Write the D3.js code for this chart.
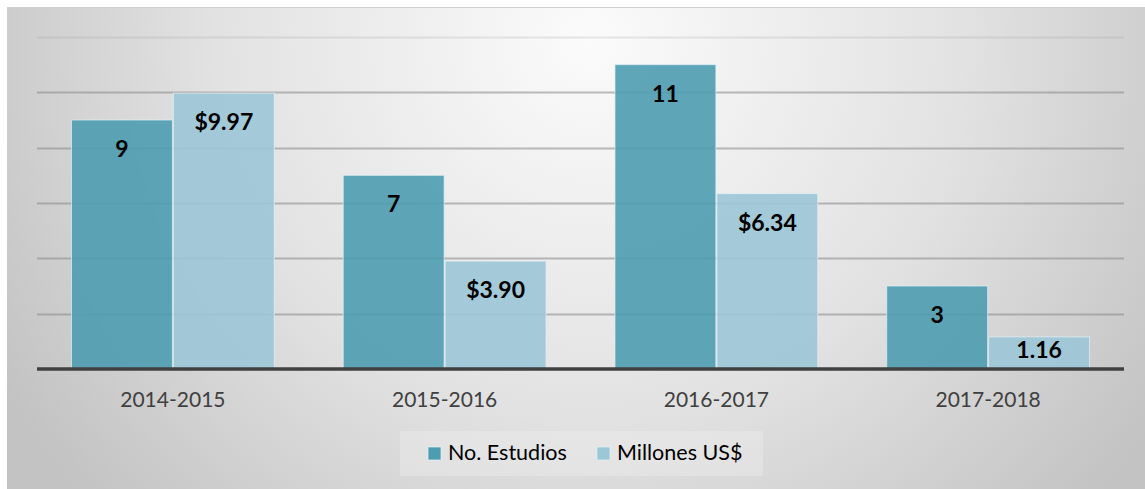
<!DOCTYPE html>
<html>
<head>
<meta charset="utf-8">
<script src="https://cdn.jsdelivr.net/npm/d3@7"></script>
<style>
  body { margin: 0; background: #fff; }
  svg { display: block; font-family: Lato, "Open Sans", sans-serif; }
</style>
</head>
<body>
<div id="chart"></div>
<script>
// chart data
const periodos = ["2014-2015", "2015-2016", "2016-2017", "2017-2018"];
const estudios = [9, 7, 11, 3];
const millones = [9.97, 3.90, 6.34, 1.16];
const millonesLabels = ["$9.97", "$3.90", "$6.34", "1.16"];
const seriesNames = ["No. Estudios", "Millones US$"];
const yTicks = [0, 2, 4, 6, 8, 10, 12];

const W = 1145, H = 489;
const plot = { left: 37, right: 1124, top: 37, bottom: 369 };
const colors = ["#4d9cb0", "#9cc7d7"];

const svg = d3.select("#chart").append("svg")
  .attr("width", W)
  .attr("height", H);

// background gradient panel
const defs = svg.append("defs");
const grad = defs.append("radialGradient")
  .attr("id", "bg")
  .attr("gradientUnits", "userSpaceOnUse")
  .attr("cx", 590).attr("cy", 40).attr("r", 680);
grad.append("stop").attr("offset", "0").attr("stop-color", "#fbfbfb");
grad.append("stop").attr("offset", "0.55").attr("stop-color", "#e2e2e2");
grad.append("stop").attr("offset", "1").attr("stop-color", "#c3c3c3");

svg.append("rect")
  .attr("x", 7).attr("y", 7)
  .attr("width", W - 7).attr("height", H - 7)
  .attr("fill", "url(#bg)");
svg.append("line")
  .attr("x1", 7).attr("x2", W)
  .attr("y1", 7.5).attr("y2", 7.5)
  .attr("stroke", "#cfcfcf");

// scales
const x = d3.scaleBand().domain(periodos)
  .range([plot.left, plot.right])
  .paddingInner(0.25).paddingOuter(0.125);
const xs = d3.scaleBand().domain([0, 1]).range([0, x.bandwidth()]);
const y = d3.scaleLinear().domain([0, 12]).range([plot.bottom, plot.top]);

// gridlines
svg.append("g")
  .selectAll("line")
  .data(yTicks.slice(1))
  .enter().append("line")
  .attr("x1", plot.left).attr("x2", plot.right)
  .attr("y1", d => Math.round(y(d)) + 0.5)
  .attr("y2", d => Math.round(y(d)) + 0.5)
  .attr("stroke", "#8f8f8f")
  .attr("stroke-opacity", d => d == 12 ? 0.2 : 0.6)
  .attr("stroke-width", 2);

// bars
const rows = periodos.map((p, i) => ({
  periodo: p,
  vals: [
    { s: 0, v: estudios[i], label: String(estudios[i]) },
    { s: 1, v: millones[i], label: millonesLabels[i] }
  ]
}));

const groups = svg.selectAll(".grp")
  .data(rows)
  .enter().append("g")
  .attr("class", "grp")
  .attr("transform", d => "translate(" + x(d.periodo) + ",0)");

groups.selectAll("rect")
  .data(d => d.vals)
  .enter().append("rect")
  .attr("x", d => xs(d.s) + 0.5)
  .attr("y", d => y(d.v))
  .attr("width", xs.bandwidth() - 1)
  .attr("height", d => y(0) - y(d.v))
  .attr("fill", d => colors[d.s])
  .attr("fill-opacity", 0.9)
  .attr("stroke", "#e4f2f6")
  .attr("stroke-opacity", 0.7)
  .attr("stroke-width", 1);

// value labels, inside end
groups.selectAll("text")
  .data(d => d.vals)
  .enter().append("text")
  .attr("x", d => xs(d.s) + xs.bandwidth() / 2)
  .attr("y", d => {
    let h = y(0) - y(d.v);
    return y(d.v) + Math.min(37, h / 2 + 5);
  })
  .attr("text-anchor", "middle")
  .attr("font-weight", "bold")
  .attr("font-size", "23px")
  .attr("fill", "#000")
  .text(d => d.label);

// axis line
svg.append("line")
  .attr("x1", plot.left).attr("x2", plot.right)
  .attr("y1", plot.bottom).attr("y2", plot.bottom)
  .attr("stroke", "#404040")
  .attr("stroke-width", 3.5);

// category labels
const xAxis = svg.append("g")
  .attr("transform", "translate(0," + plot.bottom + ")")
  .call(d3.axisBottom(x).tickSize(0).tickPadding(0));
xAxis.select(".domain").remove();
xAxis.selectAll("text")
  .attr("dy", null)
  .attr("y", 38)
  .attr("font-family", "Lato, 'Open Sans', sans-serif")
  .attr("font-size", "21px")
  .attr("fill", "#404040");

// legend
const legend = svg.append("g");
legend.append("rect")
  .attr("x", 400).attr("y", 431)
  .attr("width", 363).attr("height", 45)
  .attr("fill", "#f2f2f2")
  .attr("fill-opacity", 0.35);

const legX = [428, 597];
seriesNames.forEach((name, i) => {
  legend.append("rect")
    .attr("x", legX[i]).attr("y", 447)
    .attr("width", 13).attr("height", 13)
    .attr("fill", colors[i])
    .attr("stroke", "#e4f2f6")
    .attr("stroke-opacity", 0.7);
  legend.append("text")
    .attr("x", legX[i] + 20)
    .attr("y", 460)
    .attr("font-size", "21.5px")
    .attr("fill", "#000")
    .text(name);
});
</script>
</body>
</html>
